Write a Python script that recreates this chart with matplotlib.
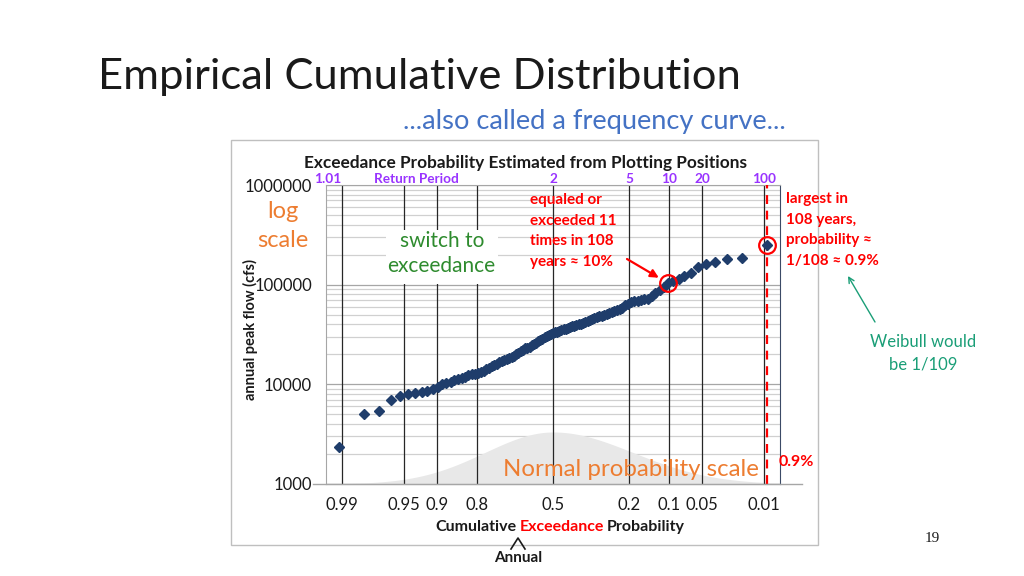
import matplotlib
matplotlib.use("Agg")
import matplotlib.pyplot as plt
import matplotlib.transforms as mtransforms
from matplotlib.lines import Line2D
from matplotlib.patches import Rectangle
from statistics import NormalDist
import numpy as np

plt.rcParams['font.family'] = ['Lato', 'DejaVu Sans']

# Annual peak flows (cfs), ranked from largest to smallest
flows = [250000, 187000, 180000, 170000, 160000, 151000, 130000, 123000, 114000, 109000,
         103000, 94800, 87900, 81800, 77400, 72600, 71200, 70000, 69000, 67900,
         66600, 64000, 61800, 58900, 57000, 55600, 54300, 53200, 52100, 50900,
         49800, 48800, 48000, 46900, 45900, 44900, 44000, 43000, 42000, 41200,
         40600, 39900, 39300, 38700, 38100, 37500, 36800, 36300, 35700, 35100,
         34400, 33700, 33200, 32700, 32000, 31300, 30400, 29600, 28600, 27800,
         27100, 26200, 25200, 24600, 23900, 23300, 22900, 22300, 21600, 20700,
         20000, 19300, 18800, 18400, 18000, 17700, 17300, 16600, 16100, 15600,
         15100, 14500, 14100, 13700, 13300, 12900, 12800, 12600, 12400, 11940,
         11700, 11300, 11070, 10650, 10400, 10100, 9490, 8940, 8530, 8400,
         8150, 7960, 7660, 6930, 5440, 5050, 2370]
n_years = 108

exceed_ticks = [0.99, 0.95, 0.9, 0.8, 0.5, 0.2, 0.1, 0.05, 0.01]
exceed_labels = ['0.99', '0.95', '0.9', '0.8', '0.5', '0.2', '0.1', '0.05', '0.01']
return_periods = [1.01, 2, 5, 10, 20, 100]
return_labels = ['1.01', '2', '5', '10', '20', '100']
y_ticks = [1000, 10000, 100000, 1000000]
y_labels = ['1000', '10000', '100000', '1000000']

nd = NormalDist()


def zq(p_exceed):
    # normal probability scale: position = standard normal quantile of non-exceedance
    return nd.inv_cdf(1 - p_exceed)


def px(x, y):
    return x / 1024, 1 - y / 576


ranks = np.arange(1, len(flows) + 1)
z_pts = [zq(r / n_years) for r in ranks]

fig = plt.figure(figsize=(10.24, 5.76), dpi=100)
fig.patch.set_facecolor('white')

# chart frame
fig.patches.append(Rectangle(px(231, 545), 587 / 1024, 405 / 576, transform=fig.transFigure,
                             fill=False, edgecolor='#bfbfbf', lw=1.0, zorder=0))

ax = fig.add_axes([326 / 1024, 92 / 576, 454 / 1024, 299 / 576])
ax.set_xlim(-2.5, 2.5)
ax.set_yscale('log')
ax.set_ylim(1000, 1000000)

# horizontal gridlines
ax.yaxis.set_minor_locator(matplotlib.ticker.LogLocator(base=10, subs=np.arange(2, 10)))
ax.yaxis.set_minor_formatter(matplotlib.ticker.NullFormatter())
ax.grid(True, axis='y', which='major', color='#a6a6a6', lw=0.9)
ax.grid(True, axis='y', which='minor', color='#d0d0d0', lw=0.9)
ax.set_axisbelow(True)
ax.set_yticks(y_ticks)
ax.set_yticklabels(y_labels)
ax.tick_params(axis='y', which='both', length=0, pad=10, labelsize=12, labelcolor='#1a1a1a')

# normal bell in the background
zz = np.linspace(-2.5, 2.5, 300)
sig = np.where(zz < 0, 0.75, 0.88)
bell = 0.174 * np.exp(-zz ** 2 / (2 * sig ** 2))
trans = mtransforms.blended_transform_factory(ax.transData, ax.transAxes)
ax.fill_between(zz, 0, bell, transform=trans, color='#e8e8e8', lw=0, zorder=1)

# probability lines
z_ticks = [zq(p) for p in exceed_ticks]
for zt in z_ticks:
    ax.axvline(zt, color='#262626', lw=0.9, zorder=2)
ax.set_xticks(z_ticks)
ax.set_xticklabels(exceed_labels)
ax.tick_params(axis='x', length=0, pad=9, labelsize=12, labelcolor='#1a1a1a')

for side in ['top', 'bottom', 'left']:
    ax.spines[side].set_color('#a6a6a6')
ax.spines['right'].set_color('#3b4a66')

# red dashed line at largest plotting position
ax.axvline(z_pts[0], color='#ff0000', lw=1.6, ls=(0, (4, 3)), zorder=3)

# data
ax.plot(z_pts, flows, ls='none', marker='D', ms=5.5, color='#1f3d6b', zorder=4)

# circles around ranks 1 and 11
ax.plot([z_pts[0], z_pts[10]], [flows[0], flows[10]], ls='none', marker='o', ms=12,
        mfc='none', mec='#ff0000', mew=1.6, zorder=5)

# return period labels on top
for T, lab in zip(return_periods, return_labels):
    ax.text(zq(1 / T), 1.0, lab, transform=trans, ha='right' if T == 1.01 else 'center',
            va='bottom', fontsize=9.8, fontweight='bold', color='#9933ff')
ax.text(-1.505, 1.0, 'Return Period', transform=trans, ha='center', va='bottom',
        fontsize=9.8, fontweight='bold', color='#9933ff')

# bottom axis line extended beyond plot
fig.lines.append(Line2D([313 / 1024, 802 / 1024], [1 - 484 / 576] * 2, transform=fig.transFigure,
                        color='#a6a6a6', lw=1))

# titles
fig.text(*px(98, 77), 'Empirical Cumulative Distribution', fontsize=31.3, color='#1a1a1a',
         ha='left', va='center')
fig.text(*px(594, 122), '...also called a frequency curve...', fontsize=19.6, color='#4472c4',
         ha='center', va='center')
fig.text(*px(525, 163), 'Exceedance Probability Estimated from Plotting Positions',
         fontsize=12.4, fontweight='bold', color='#1a1a1a', ha='center', va='center')

# axis labels
fig.text(*px(250, 329), 'annual peak flow (cfs)', rotation=90, fontsize=10.5, fontweight='bold',
         color='#1a1a1a', ha='center', va='center')
fig.text(*px(517, 527), 'Cumulative', fontsize=11.5, fontweight='bold', color='#1a1a1a',
         ha='right', va='center')
fig.text(*px(562, 527), 'Exceedance', fontsize=11.5, fontweight='bold', color='#ff0000',
         ha='center', va='center')
fig.text(*px(607, 527), 'Probability', fontsize=11.5, fontweight='bold', color='#1a1a1a',
         ha='left', va='center')
fig.lines.append(Line2D([511 / 1024, 518 / 1024, 525 / 1024],
                        [1 - 549 / 576, 1 - 538 / 576, 1 - 549 / 576],
                        transform=fig.transFigure, color='#1a1a1a', lw=1.2))
fig.text(*px(518, 558), 'Annual', fontsize=11, fontweight='bold', color='#1a1a1a',
         ha='center', va='center')

# handwritten-style notes
fig.text(*px(283, 211), 'log', fontsize=17, color='#ed7d31', ha='center', va='center')
fig.text(*px(283, 240), 'scale', fontsize=17, color='#ed7d31', ha='center', va='center')
fig.patches.append(Rectangle(px(386, 284), 112 / 1024, 54 / 576, transform=fig.transFigure,
                             facecolor='white', edgecolor='none', zorder=2))
fig.text(*px(442, 241), 'switch to', fontsize=15, color='#2e8b2e', ha='center', va='center', zorder=3)
fig.text(*px(441, 266), 'exceedance', fontsize=15, color='#2e8b2e', ha='center', va='center', zorder=3)
fig.text(*px(631, 470), 'Normal probability scale', fontsize=17.3, color='#ed7d31',
         ha='center', va='center', zorder=3)

red_note1 = ['equaled or', 'exceeded 11', 'times in 108', 'years \u2248 10%']
for k, line in enumerate(red_note1):
    fig.text(*px(530, 200 + 20.7 * k), line, fontsize=11, fontweight='bold', color='#ff0000',
             ha='left', va='center')
red_note2 = ['largest in', '108 years,', 'probability \u2248', '1/108 \u2248 0.9%']
for k, line in enumerate(red_note2):
    fig.text(*px(786, 199 + 20.7 * k), line, fontsize=11, fontweight='bold', color='#ff0000',
             ha='left', va='center')
fig.text(*px(796, 462), '0.9%', fontsize=11.5, fontweight='bold', color='#ff0000',
         ha='center', va='center')

ax.annotate('', xy=(z_pts[10], flows[10]), xycoords='data', xytext=px(627, 259),
            textcoords='figure fraction',
            arrowprops=dict(arrowstyle='-|>', color='#ff0000', lw=1.6, shrinkA=0, shrinkB=8,
                            mutation_scale=12))
ax.annotate('', xy=px(848, 276), xycoords='figure fraction', xytext=px(875, 322),
            textcoords='figure fraction',
            arrowprops=dict(arrowstyle='->', color='#1a9e77', lw=1.0, shrinkA=0, shrinkB=0))
fig.text(*px(923, 342), 'Weibull would', fontsize=12, color='#1a9e77', ha='center', va='center')
fig.text(*px(923, 364), 'be 1/109', fontsize=12, color='#1a9e77', ha='center', va='center')

fig.text(*px(932, 539), '19', fontsize=11, family='Liberation Serif', color='#1a1a1a',
         ha='center', va='center')

fig.savefig('out.png', dpi=100)
